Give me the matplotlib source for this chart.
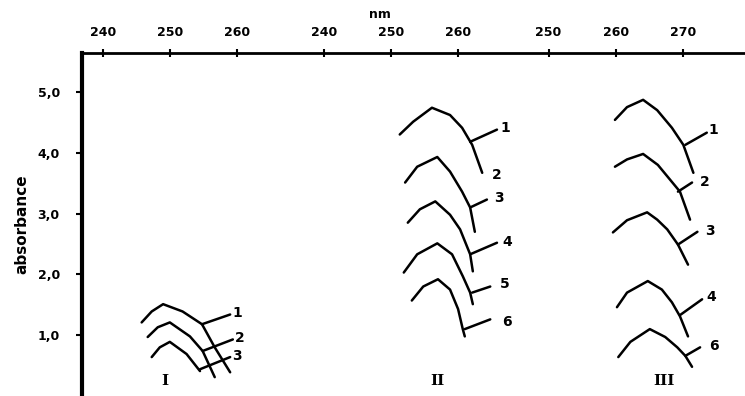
import matplotlib.pyplot as plt

# wavelength (nm) / absorbance
p1_nm = [[245.8, 247.3, 249.0, 251.9, 254.8, 256.7, 259.0],
         [246.7, 248.2, 250.0, 253.0, 254.9, 256.7],
         [247.3, 248.5, 250.0, 252.5, 254.5]]
p1_abs = [[1.21, 1.39, 1.51, 1.39, 1.18, 0.80, 0.39],
          [0.97, 1.13, 1.21, 0.98, 0.74, 0.31],
          [0.64, 0.80, 0.89, 0.69, 0.41]]

p2_nm = [[251.3, 253.3, 256.1, 258.8, 260.6, 262.1, 263.6],
         [252.1, 253.9, 256.9, 258.8, 260.6, 261.8, 262.5],
         [252.5, 254.3, 256.6, 258.8, 260.3, 261.8, 262.2],
         [251.9, 253.9, 256.9, 259.1, 260.7, 261.8, 262.2],
         [253.1, 254.8, 257.0, 258.8, 260.0, 260.7, 261.0]]
p2_abs = [[4.30, 4.51, 4.74, 4.62, 4.41, 4.13, 3.67],
          [3.51, 3.77, 3.93, 3.69, 3.36, 3.10, 2.70],
          [2.85, 3.07, 3.20, 2.98, 2.74, 2.33, 2.05],
          [2.03, 2.33, 2.51, 2.33, 1.97, 1.70, 1.51],
          [1.57, 1.80, 1.92, 1.75, 1.43, 1.10, 0.98]]

p3_nm = [[259.9, 261.7, 264.1, 266.2, 268.4, 270.1, 271.6],
         [259.9, 261.7, 264.1, 266.3, 268.4, 269.6, 271.1],
         [259.6, 261.7, 264.7, 266.2, 267.7, 269.3, 270.8],
         [260.2, 261.7, 264.8, 266.9, 268.4, 269.6, 270.8],
         [260.4, 262.2, 265.1, 267.4, 269.2, 270.4, 271.4]]
p3_abs = [[4.54, 4.75, 4.87, 4.70, 4.41, 4.13, 3.67],
          [3.77, 3.89, 3.98, 3.80, 3.52, 3.36, 2.90],
          [2.69, 2.89, 3.02, 2.90, 2.74, 2.49, 2.16],
          [1.46, 1.70, 1.89, 1.75, 1.54, 1.31, 0.98],
          [0.64, 0.89, 1.10, 0.97, 0.80, 0.66, 0.48]]

# curve labels: leader (nm0, abs0, nm1, abs1), text
p1_leaders = [(254.8, 1.18, 259.0, 1.34), (254.9, 0.74, 259.4, 0.93), (254.5, 0.44, 259.0, 0.64)]
p1_labels = ["1", "2", "3"]
p2_leaders = [(261.8, 4.18, 265.8, 4.38), None, (261.8, 3.10, 264.3, 3.23),
              (261.8, 2.33, 265.8, 2.52), (262.1, 1.70, 264.8, 1.80), (261.0, 1.10, 264.8, 1.26)]
p2_label_pos = [(266.3, 4.41), (265.1, 3.64), (265.4, 3.25), (266.6, 2.54), (266.3, 1.84), (266.6, 1.21)]
p2_labels = ["1", "2", "3", "4", "5", "6"]
p3_leaders = [(270.4, 4.13, 273.6, 4.33), (269.3, 3.36, 271.4, 3.51), (269.3, 2.49, 272.2, 2.70),
              (269.6, 1.33, 272.9, 1.59), (270.4, 0.66, 272.6, 0.80)]
p3_label_pos = [(273.9, 4.38), (272.6, 3.52), (273.4, 2.72), (273.6, 1.62), (273.9, 0.82)]
p3_labels = ["1", "2", "3", "4", "6"]

panel_names = ["I", "II", "III"]
panel_name_nm = [249.3, 256.9, 267.2]
offsets = [0, 33, 56.5]

top_ticks_nm = [[240, 250, 260], [240, 250, 260], [250, 260, 270]]
y_ticks = [1, 2, 3, 4, 5]
y_ticklabels = ["1,0", "2,0", "3,0", "4,0", "5,0"]

fig = plt.figure(figsize=(7.45, 3.96), dpi=100)
ax = fig.add_axes([82 / 745, 0, 663 / 745, 1 - 53 / 396])
ax.set_xlim(236.9, 335.8)
ax.set_ylim(0, 5.64)

lw = 1.8
line = dict(color="black", lw=lw, solid_capstyle="round", solid_joinstyle="round")
txt = dict(fontsize=10, fontweight="bold", va="center", ha="left")

# panel I
for x, y in zip(p1_nm, p1_abs):
    ax.plot(x, y, **line)
for (a0, b0, a1, b1), lab in zip(p1_leaders, p1_labels):
    ax.plot([a0, a1], [b0, b1], **line)
    ax.text(a1 + 0.3, b1 + 0.02, lab, **txt)

# panel II
off = offsets[1]
for x, y in zip(p2_nm, p2_abs):
    ax.plot([v + off for v in x], y, **line)
for ld, pos, lab in zip(p2_leaders, p2_label_pos, p2_labels):
    if ld is not None:
        ax.plot([ld[0] + off, ld[2] + off], [ld[1], ld[3]], **line)
    ax.text(pos[0] + off, pos[1], lab, **txt)

# panel III
off = offsets[2]
for x, y in zip(p3_nm, p3_abs):
    ax.plot([v + off for v in x], y, **line)
for ld, pos, lab in zip(p3_leaders, p3_label_pos, p3_labels):
    ax.plot([ld[0] + off, ld[2] + off], [ld[1], ld[3]], **line)
    ax.text(pos[0] + off, pos[1], lab, **txt)

for name, nm, off in zip(panel_names, panel_name_nm, offsets):
    ax.text(nm + off, 0.25, name, fontsize=11, fontweight="bold", family="DejaVu Serif",
            ha="center", va="center")

# axes styling
for s in ["bottom", "right"]:
    ax.spines[s].set_visible(False)
ax.spines["left"].set_linewidth(3)
ax.spines["top"].set_linewidth(2)

pos = []
labs = []
for ticks, off in zip(top_ticks_nm, offsets):
    for t in ticks:
        pos.append(t + off)
        labs.append(str(t))
ax.xaxis.tick_top()
ax.set_xticks(pos)
ax.set_xticklabels(labs, fontsize=9, fontweight="bold")
ax.tick_params(axis="x", direction="inout", length=6, width=1.5, pad=7)

ax.set_yticks(y_ticks)
ax.set_yticklabels(y_ticklabels, fontsize=9, fontweight="bold")
ax.tick_params(axis="y", direction="out", length=4, width=1.5, pad=12)
ax.set_ylabel("absorbance", fontsize=11, fontweight="bold", labelpad=6)

fig.text(380 / 745, 1 - 14 / 396, "nm", fontsize=9, fontweight="bold", ha="center", va="center")

fig.savefig("out.png", dpi=100)
